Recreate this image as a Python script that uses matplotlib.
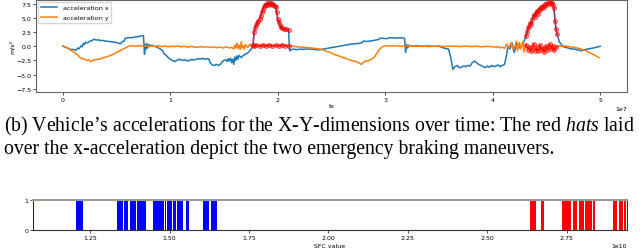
import numpy as np
import matplotlib
matplotlib.use('Agg')
import matplotlib.pyplot as plt

# フォント設定（キャプションは Times 系）
plt.rcParams['font.family'] = 'DejaVu Sans'
plt.rcParams['mathtext.fontset'] = 'custom'
plt.rcParams['mathtext.rm'] = 'Liberation Serif'
plt.rcParams['mathtext.it'] = 'Liberation Serif:italic'

# ---- data: acceleration x (t in units of 1e7) ----
t_x = [0.00, 0.03, 0.06, 0.08, 0.10, 0.12, 0.14, 0.15, 0.17, 0.18, 0.19, 0.20, 0.21, 0.23, 0.25,
       0.27, 0.29, 0.31, 0.33, 0.35, 0.37, 0.39, 0.41, 0.43, 0.45, 0.47, 0.49, 0.51, 0.53, 0.54,
       0.55, 0.57, 0.58, 0.60, 0.62, 0.64, 0.66, 0.68, 0.70, 0.72, 0.74, 0.75, 0.76, 0.765, 0.77,
       0.78, 0.79, 0.80, 0.81, 0.83, 0.85, 0.87, 0.89, 0.91, 0.93, 0.94, 0.96, 0.98, 1.00, 1.02,
       1.04, 1.06, 1.08, 1.10, 1.12, 1.14, 1.16, 1.18, 1.20, 1.22, 1.24, 1.26, 1.28, 1.30, 1.32,
       1.34, 1.36, 1.37, 1.39, 1.41, 1.43, 1.45, 1.47, 1.48, 1.50, 1.52, 1.53, 1.54, 1.55, 1.56,
       1.57, 1.58, 1.59, 1.60, 1.61, 1.62, 1.63, 1.64, 1.66, 1.68, 1.70, 1.72, 1.74, 1.76, 1.77,
       1.78, 1.79, 1.80, 1.81, 1.82, 1.83, 1.84, 1.85, 1.86, 1.87, 1.88, 1.89, 1.90, 1.91, 1.92,
       1.93, 1.94, 1.95, 1.96, 1.97, 1.98, 1.99, 2.00, 2.01, 2.02, 2.03, 2.04, 2.06, 2.08, 2.10,
       2.11, 2.13, 2.15, 2.18, 2.21, 2.24, 2.27, 2.30, 2.33, 2.36, 2.39, 2.42, 2.45, 2.48, 2.51,
       2.54, 2.57, 2.60, 2.63, 2.66, 2.69, 2.72, 2.75, 2.78, 2.80, 2.82, 2.85, 2.88, 2.91, 2.94,
       2.95, 2.98, 3.01, 3.04, 3.07, 3.10, 3.13, 3.16, 3.18, 3.19, 3.20, 3.21, 3.22, 3.25, 3.30,
       3.35, 3.40, 3.45, 3.50, 3.53, 3.56, 3.59, 3.61, 3.63, 3.65, 3.67, 3.69, 3.71, 3.73, 3.75,
       3.77, 3.79, 3.81, 3.83, 3.85, 3.87, 3.89, 3.91, 3.93, 3.95, 3.97, 3.99, 4.01, 4.03, 4.05,
       4.07, 4.09, 4.11, 4.13, 4.14, 4.16, 4.18, 4.20, 4.22, 4.23, 4.25, 4.27, 4.29, 4.31, 4.32,
       4.33, 4.34, 4.35, 4.36, 4.37, 4.38, 4.39, 4.40, 4.41, 4.42, 4.43, 4.44, 4.45, 4.46, 4.47,
       4.48, 4.49, 4.50, 4.51, 4.52, 4.53, 4.54, 4.55, 4.56, 4.57, 4.58, 4.59, 4.60, 4.61, 4.62,
       4.64, 4.66, 4.68, 4.70, 4.72, 4.74, 4.76, 4.78, 4.80, 4.82, 4.84, 4.86, 4.88, 4.90, 4.92,
       4.94, 4.96, 4.98, 5.00]
acc_x = [0.0, -0.2, -0.45, -0.6, -0.55, -0.7, -0.3, -0.45, 0.1, -0.1, 0.5, 0.3, 0.7, 0.6, 0.9,
         1.0, 1.25, 1.1, 1.15, 1.0, 1.05, 0.95, 0.9, 0.85, 0.8, 0.75, 0.7, 0.6, 0.45, 0.5,
         0.8, 0.9, 1.4, 1.5, 1.55, 1.5, 1.6, 1.65, 1.7, 1.8, 1.9, 1.85, -1.4, 0.3, -0.6,
         0.5, -0.3, 0.3, 0.1, 0.2, 0.0, -0.1, -0.3, -0.5, -0.8, -1.3, -1.6, -2.0, -2.3, -2.5,
         -2.7, -2.5, -2.3, -2.4, -2.5, -2.4, -2.6, -2.5, -2.3, -2.45, -2.3, -2.2, -2.25, -2.15, -2.3,
         -2.2, -2.25, -2.9, -3.3, -3.4, -3.2, -3.4, -3.1, -2.8, -2.5, -2.4, -2.7, -2.2, -2.6, -2.1,
         -2.9, -2.3, -3.2, -1.9, -2.5, -1.7, -2.3, -1.6, -2.0, -1.6, -1.4, -1.2, -0.8, -0.3, 0.2,
         2.6, 3.3, 3.8, 4.2, 4.5, 4.9, 5.3, 6.0, 6.5, 7.0, 7.3, 7.4, 7.6, 7.4, 7.7,
         7.5, 7.6, 7.3, 7.5, 7.2, 6.9, 6.0, 4.8, 4.3, 3.8, 3.4, 3.2, 3.0, 3.0, 2.9,
         -0.8, -0.6, -0.5, -0.6, -0.5, -0.55, -0.45, -0.5, -0.55, -0.6, -0.65, -0.5, -0.4, -0.3, -0.2,
         -0.1, 0.0, 0.1, 0.2, 0.3, 0.4, 0.45, 0.5, 0.6, 0.95, 0.85, 0.9, 1.0, 1.1, 1.2,
         1.45, 1.4, 1.35, 1.5, 1.5, 1.45, 1.5, 1.5, 1.4, -1.1, 0.3, -0.3, 0.2, 0.0, 0.1,
         0.0, 0.05, 0.0, 0.0, -0.2, -0.4, -0.5, -2.0, -4.1, -3.6, -3.4, -3.8, -3.7, -3.5, -3.6,
         -3.4, -3.5, -2.9, -2.6, -2.9, -3.2, -3.4, -3.6, -3.8, -3.5, -3.7, -3.4, -3.6, -3.5, -3.3,
         -3.6, -3.4, -3.2, -1.5, 0.0, -0.5, 0.6, -1.1, 0.2, 0.5, -0.3, 0.1, 0.8, 1.8, 2.5,
         3.2, 3.6, 4.2, 4.0, 4.8, 5.6, 5.2, 5.9, 6.3, 5.8, 6.6, 6.4, 7.0, 6.8, 7.2,
         7.0, 7.5, 7.3, 7.7, 7.5, 7.8, 7.6, 7.7, 7.4, 6.8, 4.5, 3.0, 2.2, 1.5, 0.8,
         0.3, -0.1, -0.2, -0.3, -0.4, -0.5, -0.45, -0.6, -0.65, -0.8, -0.7, -0.6, -0.5, -0.45, -0.35,
         -0.3, -0.2, -0.1, 0.0]

# ---- data: acceleration y ----
t_y = [0.00, 0.02, 0.04, 0.06, 0.08, 0.10, 0.12, 0.14, 0.16, 0.18, 0.20, 0.22, 0.24, 0.26, 0.28,
       0.30, 0.32, 0.34, 0.36, 0.38, 0.40, 0.42, 0.44, 0.46, 0.48, 0.50, 0.52, 0.54, 0.56, 0.58,
       0.60, 0.62, 0.65, 0.68, 0.71, 0.74, 0.77, 0.80, 0.83, 0.86, 0.89, 0.92, 0.95, 0.98, 1.01,
       1.04, 1.07, 1.10, 1.13, 1.16, 1.19, 1.22, 1.25, 1.28, 1.31, 1.34, 1.37, 1.40, 1.43, 1.46,
       1.49, 1.52, 1.55, 1.57, 1.59, 1.60, 1.61, 1.62, 1.63, 1.64, 1.65, 1.66, 1.67, 1.68, 1.69,
       1.70, 1.72, 1.74, 1.75, 1.76, 1.78, 1.80, 1.83, 1.86, 1.89, 1.92, 1.95, 1.98, 2.01, 2.04,
       2.07, 2.10, 2.13, 2.16, 2.19, 2.22, 2.25, 2.28, 2.31, 2.34, 2.37, 2.40, 2.43, 2.46, 2.49,
       2.52, 2.55, 2.58, 2.61, 2.64, 2.67, 2.70, 2.73, 2.76, 2.78, 2.80, 2.82, 2.84, 2.86, 2.88,
       2.90, 2.92, 2.94, 2.96, 2.98, 3.00, 3.05, 3.10, 3.15, 3.20, 3.25, 3.30, 3.35, 3.40, 3.45,
       3.50, 3.55, 3.60, 3.65, 3.70, 3.75, 3.80, 3.85, 3.90, 3.95, 4.00, 4.03, 4.05, 4.07, 4.09,
       4.11, 4.13, 4.15, 4.17, 4.19, 4.21, 4.22, 4.23, 4.25, 4.26, 4.28, 4.29, 4.31, 4.33, 4.35,
       4.36, 4.38, 4.39, 4.41, 4.42, 4.44, 4.45, 4.47, 4.48, 4.50, 4.51, 4.53, 4.54, 4.56, 4.57,
       4.59, 4.61, 4.63, 4.66, 4.69, 4.72, 4.75, 4.78, 4.81, 4.84, 4.87, 4.90, 4.93, 4.96, 4.99]
acc_y = [0.1, -0.1, -0.3, -0.5, -0.8, -1.0, -1.3, -1.6, -2.0, -2.2, -2.3, -2.5, -2.4, -2.7, -2.5,
         -2.4, -2.3, -2.3, -2.1, -2.0, -1.9, -1.8, -1.6, -1.5, -1.3, -1.1, -0.9, -0.7, -0.5, -0.3,
         -0.1, 0.05, 0.1, 0.0, 0.1, 0.05, 0.1, -0.05, 0.05, 0.0, 0.1, -0.05, 0.05, -0.1, 0.0,
         -0.05, 0.05, -0.1, 0.0, -0.15, -0.05, -0.1, -0.2, -0.05, -0.15, -0.1, -0.2, -0.1, -0.25, -0.15,
         -0.3, -0.1, -0.3, -0.2, -0.5, 0.2, -0.3, 0.6, -0.4, 0.2, -0.6, 0.8, -0.3, 0.1, -0.5,
         0.3, -0.2, 0.4, 0.0, 0.2, 0.0, 0.2, 0.0, 0.2, 0.05, 0.2, 0.0, 0.15, 0.05, 0.2,
         0.1, 0.1, 0.05, -0.05, -0.1, -0.15, -0.2, -0.25, -0.3, -0.35, -0.45, -0.5, -0.7, -0.9, -1.1,
         -1.4, -1.6, -1.8, -2.0, -2.2, -2.4, -2.6, -2.7, -3.0, -3.2, -2.8, -2.6, -2.6, -2.4, -2.2,
         -1.9, -1.3, -0.7, -0.3, 0.0, 0.1, 0.05, 0.1, 0.0, 0.1, 0.05, 0.0, 0.05, -0.05, 0.0,
         0.05, -0.05, 0.05, 0.0, -0.05, 0.05, -0.05, 0.0, -0.1, 0.0, -0.1, -0.15, -0.05, -0.3, -0.1,
         -0.4, 0.4, -0.3, 0.6, -0.6, 0.2, 0.9, -0.8, 0.7, -0.5, 0.8, -1.0, 0.3, -0.6, -0.1,
         -0.9, 0.4, -0.8, -0.2, -0.9, 0.2, -0.6, -0.3, -1.0, 0.1, -0.7, 0.4, -0.5, 0.1, -0.7,
         -0.2, 0.1, 0.0, 0.05, 0.0, -0.1, -0.15, -0.3, -0.4, -0.6, -0.8, -1.1, -1.4, -1.7, -2.0]

# 緊急ブレーキ区間 (1e7 単位)
brake_windows = [(1.77, 2.10), (4.31, 4.60)]
y_ticks = [-7.5, -5.0, -2.5, 0.0, 2.5, 5.0, 7.5]
x_ticks = [0, 1, 2, 3, 4, 5]

# ---- data: SFC value bars (units of 1e10) ----
blue_lo = [1.068, 1.205, 1.336, 1.356, 1.374, 1.397, 1.447, 1.486, 1.493, 1.512, 1.524, 1.551, 1.606, 1.630]
blue_hi = [1.074, 1.226, 1.352, 1.370, 1.395, 1.425, 1.481, 1.489, 1.509, 1.521, 1.543, 1.560, 1.625, 1.650]
red_lo = [2.636, 2.669, 2.734, 2.771, 2.788, 2.809, 2.834, 2.895, 2.916, 2.930]
red_hi = [2.653, 2.680, 2.765, 2.783, 2.805, 2.831, 2.840, 2.908, 2.928, 2.938]
sfc_ticks = [1.25, 1.50, 1.75, 2.00, 2.25, 2.50, 2.75]

caption1 = r'(b) Vehicle’s accelerations for the X-Y-dimensions over time: The red $\mathit{hats}$ laid'
caption2 = 'over the x-acceleration depict the two emergency braking maneuvers.'

fig = plt.figure(figsize=(6.4, 2.51), dpi=100)

# ---- 上段：加速度 ----
ax = fig.add_axes([36/640, 1-93/251, 591/640, 92/251])
tx = np.array(t_x) * 1e7
ty = np.array(t_y) * 1e7
ax.plot(tx, acc_x, color='C0', lw=1.1, label='acceleration x', zorder=2)
ax.plot(ty, acc_y, color='C1', lw=1.1, label='acceleration y', zorder=2)

# ブレーキ区間ごとに赤い印を重ねる
tx_a = np.array(t_x)
ty_a = np.array(t_y)
ax_v = np.array(acc_x)
ay_v = np.array(acc_y)
for lo, hi in brake_windows:
    mx = (tx_a >= lo) & (tx_a <= hi)
    my = (ty_a >= lo) & (ty_a <= hi)
    ax.plot(tx[mx], ax_v[mx], 'o-', color=(1, 0, 0, 0.45), ms=3, lw=1.2,
            mec=(1, 0, 0, 0.6), mew=0.6, zorder=3)
    ax.plot(ty[my], ay_v[my], 'o-', color=(1, 0, 0, 0.45), ms=3, lw=1.5,
            mec=(1, 0, 0, 0.6), mew=0.6, zorder=3)

ax.set_xlim(-0.25e7, 5.25e7)
ax.set_ylim(-8.1, 8.2)
ax.set_yticks(y_ticks)
ax.set_xticks(np.array(x_ticks) * 1e7)
ax.tick_params(labelsize=4.5, length=2, width=0.5, pad=1.5)
ax.xaxis.get_offset_text().set_fontsize(4.5)
ax.set_xlabel('ts', fontsize=4.5, labelpad=1)
ax.set_ylabel('m/s²', fontsize=4.5, labelpad=1)
for s in ax.spines.values():
    s.set_color('0.4')
    s.set_linewidth(0.8)
ax.legend(loc='upper left', fontsize=4.6, borderaxespad=0.25, handlelength=2.6,
          borderpad=0.5, labelspacing=0.7)

# ---- キャプション ----
fig.text(4/640, 1-131/251, caption1, family='Liberation Serif', fontsize=14.2,
         ha='left', va='baseline')
fig.text(4/640, 1-154/251, caption2, family='Liberation Serif', fontsize=14.2,
         ha='left', va='baseline')

# ---- 下段：SFC 値 ----
ax2 = fig.add_axes([33/640, 1-231/251, 594/640, 30/251])
ax2.bar(blue_lo, 1, width=np.array(blue_hi) - np.array(blue_lo), align='edge',
        color='blue', lw=0)
ax2.bar(red_lo, 1, width=np.array(red_hi) - np.array(red_lo), align='edge',
        color='red', lw=0)
ax2.set_xlim(1.07, 2.94)
ax2.set_ylim(0, 1)
ax2.set_yticks([0, 1])
ax2.set_xticks(sfc_ticks)
ax2.set_xticklabels(['%.2f' % v for v in sfc_ticks])
ax2.tick_params(labelsize=4.5, length=2, width=0.5, pad=1.5)
ax2.set_xlabel('SFC value', fontsize=4.5, labelpad=2.5)
ax2.text(1.0, -0.42, '1e10', transform=ax2.transAxes, fontsize=4.5, ha='right', va='top')
ax2.spines['top'].set_color('0.6')
ax2.spines['top'].set_linewidth(1.5)
ax2.spines['left'].set_visible(False)
ax2.spines['right'].set_color('0.2')
ax2.spines['bottom'].set_color('0.2')

plt.savefig('out.png', dpi=100)
